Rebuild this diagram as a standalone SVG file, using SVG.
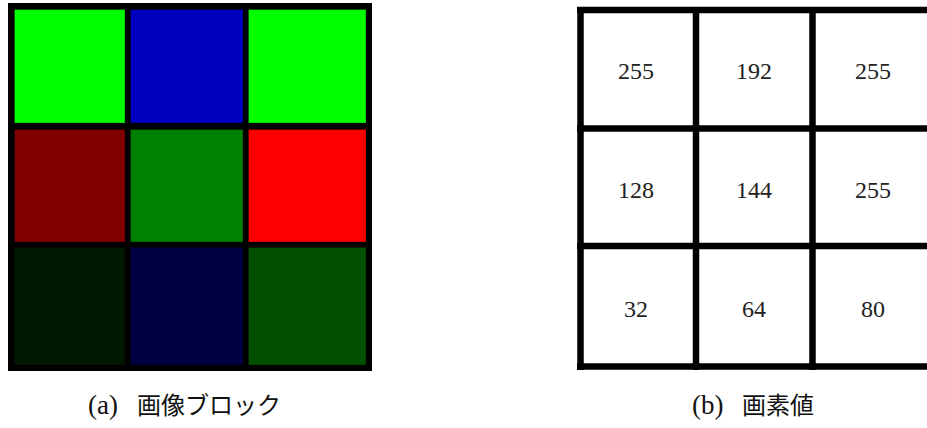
<svg xmlns="http://www.w3.org/2000/svg" width="927" height="428" viewBox="0 0 927 428">
<style>
.cell{stroke:#000;stroke-opacity:0.3;stroke-width:1}
.grid{stroke:#000;stroke-width:6.5;fill:none}
.num{font-family:"Liberation Serif","DejaVu Serif",serif;font-size:24px;fill:#222;text-anchor:middle}
.cap{font-family:"Liberation Serif","Noto Sans CJK JP",serif;font-size:24px;fill:#111}
.par{font-size:27px}
</style>
<rect width="927" height="428" fill="#fff"/>
<g id="image-block">
<rect x="8" y="3" width="364" height="368" fill="#000"/>
<rect class="cell" x="14.5" y="9.5" width="110.5" height="113.5" fill="#00ff00"/>
<rect class="cell" x="130.5" y="9.5" width="112.5" height="113.5" fill="#0000c0"/>
<rect class="cell" x="248.5" y="9.5" width="117.5" height="113.5" fill="#00ff00"/>
<rect class="cell" x="14.5" y="129.5" width="110.5" height="112.5" fill="#800000"/>
<rect class="cell" x="130.5" y="129.5" width="112.5" height="112.5" fill="#008000"/>
<rect class="cell" x="248.5" y="129.5" width="117.5" height="112.5" fill="#ff0000"/>
<rect class="cell" x="14.5" y="247.5" width="110.5" height="117.5" fill="#001800"/>
<rect class="cell" x="130.5" y="247.5" width="112.5" height="117.5" fill="#000040"/>
<rect class="cell" x="248.5" y="247.5" width="117.5" height="117.5" fill="#005000"/>
</g>
<g id="pixel-values">
<path class="grid" d="M580.5 7V370 M696 7V370 M812.5 7V370 M577 10H927 M577 128.5H927 M577 246H927 M577 366.5H927"/>
<text class="num" x="636" y="79">255</text>
<text class="num" x="754" y="79">192</text>
<text class="num" x="873" y="79">255</text>
<text class="num" x="636" y="198">128</text>
<text class="num" x="754" y="198">144</text>
<text class="num" x="873" y="198">255</text>
<text class="num" x="636" y="317">32</text>
<text class="num" x="754" y="317">64</text>
<text class="num" x="873" y="317">80</text>
</g>
<g id="captions">
<text class="cap" x="88" y="414"><tspan class="par">(a)</tspan><tspan x="137">画像ブロック</tspan></text>
<text class="cap" x="692" y="414"><tspan class="par">(b)</tspan><tspan x="742">画素値</tspan></text>
</g>
</svg>
